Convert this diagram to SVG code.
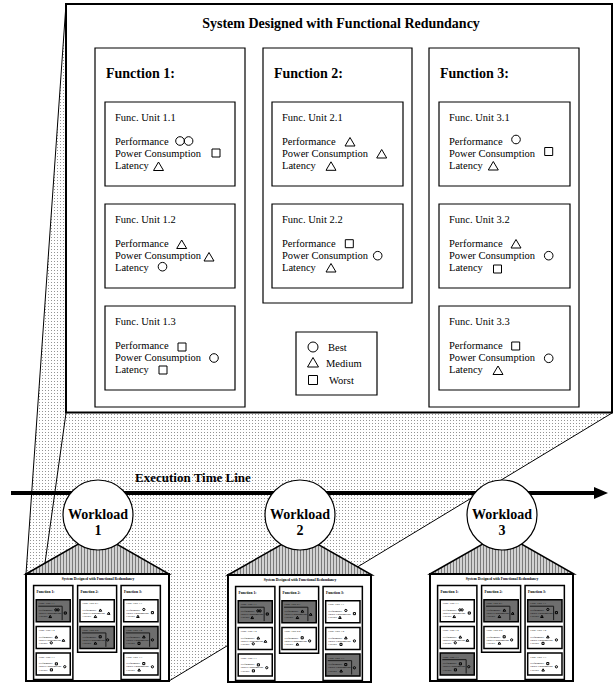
<svg xmlns="http://www.w3.org/2000/svg" xmlns:xlink="http://www.w3.org/1999/xlink" width="616" height="684" viewBox="0 0 616 684">
<style>
text{font-family:"Liberation Serif","Times New Roman",serif;fill:#000}
.ttl{font-size:14px;font-weight:bold}
.fn{font-size:14px;font-weight:bold}
.ut{font-size:10.5px}
.wl{font-size:14px;font-weight:bold;text-anchor:middle}
.box{fill:none;stroke:#000;vector-effect:non-scaling-stroke}
.sym{fill:none;stroke:#000;stroke-width:1;vector-effect:non-scaling-stroke}
.hl{fill:#6e6e6e}
.hi{fill:none;stroke:#1a1a1a;stroke-width:1;vector-effect:non-scaling-stroke}
.ln{stroke:#000;stroke-width:1;fill:none}
</style>
<defs>
<pattern id="dots" width="3" height="3" patternUnits="userSpaceOnUse"><rect width="3" height="3" fill="#fff"/><rect width="1" height="1" fill="#949494"/></pattern>
<pattern id="hatch" width="3" height="3" patternUnits="userSpaceOnUse"><rect width="3" height="3" fill="#d2d2d2"/><rect width="1" height="3" fill="#7a7a7a"/></pattern>
<circle id="ci" r="4.3" class="sym"/>
<rect id="sq" x="-4" y="-4" width="8" height="8" class="sym"/>
<path id="tr" d="M0,-4.5L5,4H-5Z" class="sym"/>
</defs>

<polygon points="66,4 612,4 612,413 169,681 26,681 26,574" fill="url(#dots)"/>

<g id="connectors">
<line class="ln" x1="66" y1="4" x2="26" y2="574"/>
<line class="ln" x1="66" y1="413" x2="45" y2="563"/>
<line class="ln" x1="612" y1="413" x2="169" y2="681"/>
<line x1="11" y1="493" x2="597" y2="493" stroke="#000" stroke-width="4"/>
<polygon points="594,487 608,493 594,499" fill="#000"/>
</g>
<text class="fn" x="135" y="482" style="font-size:13px">Execution Time Line</text>

<g id="snapshot-1">
<polygon points="26,574 97.5,533 169,574" fill="url(#hatch)" stroke="#000" stroke-width="1.5"/>
<rect x="26" y="574" width="143" height="107" fill="#fff" stroke="#000" stroke-width="2"/>
<g transform="translate(26,574) scale(0.2619) translate(-66,-4)">
<rect class="hl" x="105" y="102" width="130" height="84"/>
<rect class="hl" x="272" y="204" width="131" height="84"/>
<rect class="hl" x="439" y="204" width="131" height="84"/>
<path class="hi" d="M113,127H204V180M280,229H371V282M447,229H538V282"/>
<use xlink:href="#sys-content" stroke-width="1.5"/>
</g>
</g>
<g id="snapshot-2">
<polygon points="228,575 300,534 372,575" fill="url(#hatch)" stroke="#000" stroke-width="1.5"/>
<rect x="228" y="575" width="143" height="107" fill="#fff" stroke="#000" stroke-width="2"/>
<g transform="translate(228,575) scale(0.2619) translate(-66,-4)">
<rect class="hl" x="105" y="102" width="130" height="84"/>
<rect class="hl" x="272" y="102" width="131" height="84"/>
<rect class="hl" x="439" y="306" width="131" height="84"/>
<path class="hi" d="M113,127H204V180M280,127H371V180M447,331H538V384"/>
<use xlink:href="#sys-content" stroke-width="1.5"/>
</g>
</g>
<g id="snapshot-3">
<polygon points="430,574 502,533 574,574" fill="url(#hatch)" stroke="#000" stroke-width="1.5"/>
<rect x="430" y="574" width="143" height="107" fill="#fff" stroke="#000" stroke-width="2"/>
<g transform="translate(430,574) scale(0.2619) translate(-66,-4)">
<rect class="hl" x="105" y="306" width="130" height="84"/>
<rect class="hl" x="272" y="102" width="131" height="84"/>
<rect class="hl" x="439" y="102" width="131" height="84"/>
<path class="hi" d="M113,331H204V384M280,127H371V180M447,127H538V180"/>
<use xlink:href="#sys-content" stroke-width="1.5"/>
</g>
</g>

<g id="workload-1">
<circle cx="98" cy="515" r="35" fill="#fff" stroke="#000" stroke-width="1.2"/>
<text class="wl" x="98" y="519">Workload</text>
<text class="wl" x="98" y="535">1</text>
</g>
<g id="workload-2">
<circle cx="300" cy="515" r="35" fill="#fff" stroke="#000" stroke-width="1.2"/>
<text class="wl" x="300" y="519">Workload</text>
<text class="wl" x="300" y="535">2</text>
</g>
<g id="workload-3">
<circle cx="502" cy="515" r="35" fill="#fff" stroke="#000" stroke-width="1.2"/>
<text class="wl" x="502" y="519">Workload</text>
<text class="wl" x="502" y="535">3</text>
</g>

<g id="system" stroke-width="1.2">
<rect x="66" y="4" width="546" height="408.5" fill="#fff" stroke="#000" stroke-width="2"/>
<g id="sys-content">
<text class="ttl" x="341" y="28" text-anchor="middle">System Designed with Functional Redundancy</text>

<g id="function-1">
<rect class="box" x="95" y="48" width="150" height="359"/>
<text class="fn" x="106" y="78">Function 1:</text>
<g id="unit-1-1">
<rect class="box" x="105" y="102" width="130" height="84"/>
<text class="ut" x="115" y="120.5">Func. Unit 1.1</text>
<text class="ut" x="115" y="145">Performance</text>
<text class="ut" x="115" y="157">Power Consumption</text>
<text class="ut" x="115" y="169">Latency</text>
<use xlink:href="#ci" x="180" y="141"/><use xlink:href="#ci" x="188.6" y="141"/>
<use xlink:href="#sq" x="216" y="153"/>
<use xlink:href="#tr" x="158.5" y="166.5"/>
</g>
<g id="unit-1-2">
<rect class="box" x="105" y="204" width="130" height="84"/>
<text class="ut" x="115" y="222.5">Func. Unit 1.2</text>
<text class="ut" x="115" y="247">Performance</text>
<text class="ut" x="115" y="259">Power Consumption</text>
<text class="ut" x="115" y="271">Latency</text>
<use xlink:href="#tr" x="181.7" y="244.5"/>
<use xlink:href="#tr" x="209" y="257"/>
<use xlink:href="#ci" x="162.5" y="266.7"/>
</g>
<g id="unit-1-3">
<rect class="box" x="105" y="306" width="130" height="84"/>
<text class="ut" x="115" y="324.5">Func. Unit 1.3</text>
<text class="ut" x="115" y="349">Performance</text>
<text class="ut" x="115" y="361">Power Consumption</text>
<text class="ut" x="115" y="373">Latency</text>
<use xlink:href="#sq" x="182" y="347"/>
<use xlink:href="#ci" x="214" y="358"/>
<use xlink:href="#sq" x="163" y="370"/>
</g>
</g>

<g id="function-2">
<rect class="box" x="263" y="48" width="149" height="255"/>
<text class="fn" x="274" y="78">Function 2:</text>
<g id="unit-2-1">
<rect class="box" x="272" y="102" width="131" height="84"/>
<text class="ut" x="282" y="120.5">Func. Unit 2.1</text>
<text class="ut" x="282" y="145">Performance</text>
<text class="ut" x="282" y="157">Power Consumption</text>
<text class="ut" x="282" y="169">Latency</text>
<use xlink:href="#tr" x="350" y="142"/>
<use xlink:href="#tr" x="381.7" y="154"/>
<use xlink:href="#tr" x="331" y="166.3"/>
</g>
<g id="unit-2-2">
<rect class="box" x="272" y="204" width="131" height="84"/>
<text class="ut" x="282" y="222.5">Func. Unit 2.2</text>
<text class="ut" x="282" y="247">Performance</text>
<text class="ut" x="282" y="259">Power Consumption</text>
<text class="ut" x="282" y="271">Latency</text>
<use xlink:href="#sq" x="349.3" y="243.7"/>
<use xlink:href="#ci" x="377.7" y="255.7"/>
<use xlink:href="#tr" x="331" y="268"/>
</g>
</g>

<g id="function-3">
<rect class="box" x="429" y="48" width="150" height="359"/>
<text class="fn" x="440" y="78">Function 3:</text>
<g id="unit-3-1">
<rect class="box" x="439" y="102" width="131" height="84"/>
<text class="ut" x="449" y="120.5">Func. Unit 3.1</text>
<text class="ut" x="449" y="145">Performance</text>
<text class="ut" x="449" y="157">Power Consumption</text>
<text class="ut" x="449" y="169">Latency</text>
<use xlink:href="#ci" x="516" y="139.5"/>
<use xlink:href="#sq" x="548.7" y="151.5"/>
<use xlink:href="#tr" x="493.3" y="166"/>
</g>
<g id="unit-3-2">
<rect class="box" x="439" y="204" width="131" height="84"/>
<text class="ut" x="449" y="222.5">Func. Unit 3.2</text>
<text class="ut" x="449" y="247">Performance</text>
<text class="ut" x="449" y="259">Power Consumption</text>
<text class="ut" x="449" y="271">Latency</text>
<use xlink:href="#tr" x="516" y="244"/>
<use xlink:href="#ci" x="548.7" y="255.7"/>
<use xlink:href="#sq" x="497.5" y="269"/>
</g>
<g id="unit-3-3">
<rect class="box" x="439" y="306" width="131" height="84"/>
<text class="ut" x="449" y="324.5">Func. Unit 3.3</text>
<text class="ut" x="449" y="349">Performance</text>
<text class="ut" x="449" y="361">Power Consumption</text>
<text class="ut" x="449" y="373">Latency</text>
<use xlink:href="#sq" x="515.7" y="346"/>
<use xlink:href="#ci" x="548.7" y="358.3"/>
<use xlink:href="#tr" x="498" y="370.5"/>
</g>
</g>
</g>

<g id="legend">
<rect class="box" x="296" y="332" width="81" height="63"/>
<circle class="sym" cx="313" cy="347" r="5"/>
<text class="ut" x="328" y="351">Best</text>
<path class="sym" d="M313,357.5L318.5,367H307.5Z"/>
<text class="ut" x="326" y="366.5">Medium</text>
<rect class="sym" x="308.5" y="375.5" width="9" height="9"/>
<text class="ut" x="329" y="383.5">Worst</text>
</g>
</g>
</svg>
